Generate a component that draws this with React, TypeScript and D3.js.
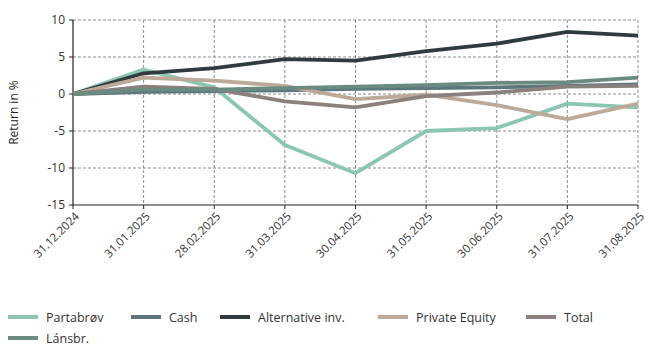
import React from "react";
import * as d3 from "d3";

const width = 655;
const height = 361;
const margin = { top: 20, right: 17, bottom: 156, left: 73 };

const dates = ["31.12.2024", "31.01.2025", "28.02.2025", "31.03.2025", "30.04.2025", "31.05.2025", "30.06.2025", "31.07.2025", "31.08.2025"];
const yTicks = [10, 5, 0, -5, -10, -15];

const partabrov = [0, 3.3, 0.9, -6.9, -10.7, -5.0, -4.6, -1.3, -1.8];
const cash = [0, 0.3, 0.4, 0.5, 0.7, 0.8, 0.9, 1.1, 1.3];
const alternative = [0, 2.8, 3.5, 4.7, 4.5, 5.8, 6.8, 8.4, 7.9];
const privateEquity = [0, 2.2, 1.8, 1.1, -0.7, -0.1, -1.5, -3.4, -1.3];
const total = [0, 1.0, 0.7, -1.0, -1.8, -0.3, 0.2, 1.0, 1.1];
const lansbr = [0, 0.6, 0.6, 0.8, 1.0, 1.2, 1.5, 1.6, 2.2];

const seriesNames = ["Partabrøv", "Cash", "Alternative inv.", "Private Equity", "Total", "Lánsbr."];
const seriesValues = [partabrov, cash, alternative, privateEquity, total, lansbr];
const colors = ["#8cc6b1", "#5c787c", "#2f3b3e", "#bca999", "#8a807d", "#6b8b81"];

// legend slots (row, x of swatch)
const legendPos = [
  [0, 8], [0, 131], [0, 220], [0, 378], [0, 526], [1, 8],
];

const App = () => {
  const innerWidth = width - margin.left - margin.right;
  const innerHeight = height - margin.top - margin.bottom;

  const xScale = d3.scalePoint<string>().domain(dates).range([0, innerWidth]);
  const yScale = d3.scaleLinear().domain([-15, 10]).range([innerHeight, 0]);

  const line = d3
    .line<number>()
    .x((_, i) => xScale(dates[i]) as number)
    .y((d) => yScale(d));

  const font = "'Open Sans', 'DejaVu Sans', sans-serif";

  return (
    <svg width={width} height={height} style={{ position: "absolute", left: 0, top: 0, fontFamily: font }}>
      <rect width="100%" height="100%" fill="white" />
      <text transform={`translate(18, ${margin.top + innerHeight / 2}) rotate(-90)`} textAnchor="middle" fontSize="12" fill="#222">
        Return in %
      </text>
      <g transform={`translate(${margin.left}, ${margin.top})`}>
        {yTicks.map((t) => (
          <g key={t}>
            {t !== -15 && (
              <line x1={0} x2={innerWidth} y1={yScale(t)} y2={yScale(t)} stroke="#8a8a8a" strokeDasharray="3,2" strokeWidth={1} />
            )}
            <line x1={-4} x2={0} y1={yScale(t)} y2={yScale(t)} stroke="#222" />
            <text x={-8} y={yScale(t) + 4} textAnchor="end" fontSize="12" fill="#333">
              {t}
            </text>
          </g>
        ))}
        {dates.map((d, i) => (
          <g key={d}>
            {i > 0 && (
              <line x1={xScale(d)} x2={xScale(d)} y1={0} y2={innerHeight} stroke="#8a8a8a" strokeDasharray="3,2" strokeWidth={1} />
            )}
            <line x1={xScale(d)} x2={xScale(d)} y1={innerHeight} y2={innerHeight + 4} stroke="#222" />
            <text
              transform={`translate(${(xScale(d) as number) + 7}, ${innerHeight + 12}) rotate(-45)`}
              textAnchor="end"
              fontSize="11.5"
              fill="#333"
            >
              {d}
            </text>
          </g>
        ))}
        <line x1={0} x2={0} y1={0} y2={innerHeight} stroke="#222" strokeWidth={1.2} />
        <line x1={0} x2={innerWidth} y1={innerHeight} y2={innerHeight} stroke="#222" strokeWidth={1.2} />

        {seriesValues.map((vals, i) => (
          <path key={seriesNames[i]} d={line(vals) || ""} fill="none" stroke={colors[i]} strokeWidth={3.8} strokeLinejoin="round" />
        ))}
      </g>

      {seriesNames.map((name, i) => {
        const [row, x] = legendPos[i];
        const y = 317 + row * 21;
        return (
          <g key={name}>
            <line x1={x} x2={x + 30} y1={y} y2={y} stroke={colors[i]} strokeWidth={4} />
            <text x={x + 38} y={y + 4.5} fontSize="12.5" fill="#333">
              {name}
            </text>
          </g>
        );
      })}
    </svg>
  );
};

export default App;
